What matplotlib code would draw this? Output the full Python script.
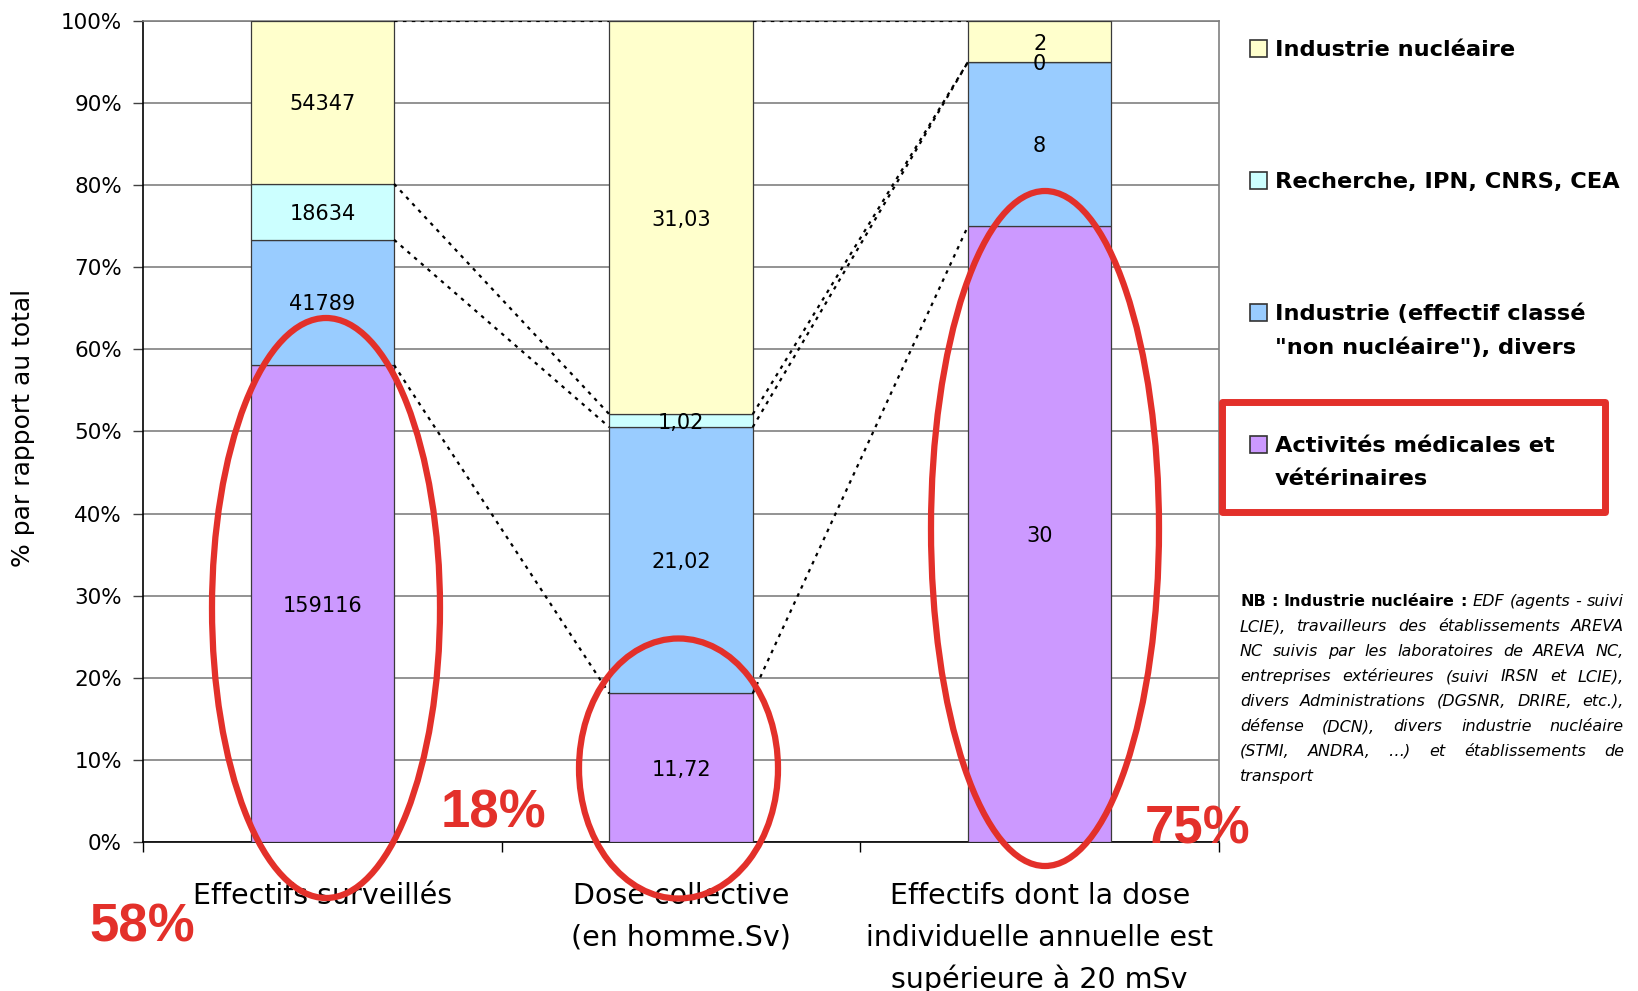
import matplotlib
matplotlib.use("Agg")
import matplotlib.pyplot as plt
from matplotlib.patches import Ellipse, Rectangle
from matplotlib.transforms import blended_transform_factory
import numpy as np

# ---- data -------------------------------------------------------------
categories = [
    ["Effectifs surveillés"],
    ["Dose collective", "(en homme.Sv)"],
    ["Effectifs dont la dose", "individuelle annuelle est", "supérieure à 20 mSv"],
]
series_names = [
    ["Activités médicales et", "vétérinaires"],
    ["Industrie (effectif classé", "\"non nucléaire\"), divers"],
    ["Recherche, IPN, CNRS, CEA"],
    ["Industrie nucléaire"],
]
medical = [159116, 11.72, 30]
industrie = [41789, 21.02, 8]
recherche = [18634, 1.02, 0]
nucleaire = [54347, 31.03, 2]
decimals = [0, 2, 0]
highlights = ["58%", "18%", "75%"]
yticks = list(range(0, 101, 10))
ytick_labels = [f"{v}%" for v in yticks]
ylabel = "% par rapport au total"
nb_lines = [
    [("NB : Industrie nucléaire :", "bold"), ("EDF (agents - suivi", "italic")],
    [("LCIE), travailleurs des établissements AREVA", "italic")],
    [("NC suivis par les laboratoires de AREVA NC,", "italic")],
    [("entreprises extérieures (suivi IRSN et LCIE),", "italic")],
    [("divers Administrations (DGSNR, DRIRE, etc.),", "italic")],
    [("défense (DCN), divers industrie nucléaire", "italic")],
    [("(STMI, ANDRA, …) et établissements de", "italic")],
    [("transport", "italic")],
]

colors = ["#CC99FF", "#99CCFF", "#CCFFFF", "#FFFFCC"]
RED = "#E3302A"

# ---- figure -----------------------------------------------------------
W, H = 1638, 991
plt.rcParams["font.family"] = ["DejaVu Sans"]
fig = plt.figure(figsize=(W / 100, H / 100), dpi=100)
fig.patch.set_facecolor("white")


def fy(ypx):
    return 1 - ypx / H


def fx(xpx):
    return xpx / W


ax = fig.add_axes([fx(143), fy(842), 1076 / W, 821 / H])

values = np.array([medical, industrie, recherche, nucleaire], dtype=float)
shares = values / values.sum(axis=0) * 100
x = np.arange(len(categories))
bw = 0.4


def fmt(v, j):
    return f"{v:.{decimals[j]}f}".replace(".", ",")


bottom = np.zeros(len(x))
tops = []
for i in range(len(values)):
    ax.bar(x, shares[i], bw, bottom=bottom, color=colors[i],
           edgecolor="#3a3a3a", linewidth=0.9, zorder=3)
    for j in range(len(x)):
        ax.text(x[j], bottom[j] + shares[i][j] / 2, fmt(values[i][j], j),
                ha="center", va="center_baseline", fontsize=15, zorder=5)
    bottom = bottom + shares[i]
    tops.append(bottom.copy())

# series lines joining the stacked segments of neighbouring bars
for j in range(len(x) - 1):
    for t in tops:
        ax.plot([x[j] + bw / 2, x[j + 1] - bw / 2], [t[j], t[j + 1]],
                color="black", lw=1.6, ls=(0, (1.6, 2.4)), zorder=4)

ax.set_xlim(-0.5, len(x) - 0.5)
ax.set_ylim(0, 100)
ax.set_yticks(yticks)
ax.set_yticklabels(ytick_labels, fontsize=15.5)
ax.tick_params(axis="y", direction="out", length=7.2, width=1, color="#404040", pad=8)
ax.yaxis.grid(True, color="#808080", lw=1.2)
ax.set_axisbelow(True)

ax.set_xticks(x)
ax.set_xticklabels([])
ax.set_xticks(np.arange(len(x) + 1) - 0.5, minor=True)
ax.tick_params(axis="x", which="major", length=0)
ax.tick_params(axis="x", which="minor", direction="out", length=7.2, width=1, color="black")

for side in ("left", "bottom"):
    ax.spines[side].set_color("black")
    ax.spines[side].set_linewidth(1.2)
for side in ("top", "right"):
    ax.spines[side].set_color("#808080")
    ax.spines[side].set_linewidth(1.2)

# category labels, one text per line
xtrans = blended_transform_factory(ax.transData, fig.transFigure)
for j, lines in enumerate(categories):
    for k, line in enumerate(lines):
        ax.text(x[j], fy(893 + 41.5 * k), line, transform=xtrans,
                ha="center", va="center_baseline", fontsize=20.5, clip_on=False)

ax.set_ylabel(ylabel, fontsize=18, va="center")
ax.yaxis.set_label_coords((23 - 143) / 1076, (842 - 428) / 821)

# ---- legend -------------------------------------------------------------
legend_rows = [(3, [48]), (2, [180]), (1, [312, 346]), (0, [444, 477])]
for idx, ys in legend_rows:
    fig.patches.append(Rectangle((fx(1250), fy(ys[0] + 9)), 17 / W, 17 / H,
                                 transform=fig.transFigure, facecolor=colors[idx],
                                 edgecolor="#333333", lw=1.2))
    for line, yy in zip(series_names[idx], ys):
        fig.text(fx(1275), fy(yy), line, fontsize=16.2, fontweight="bold",
                 ha="left", va="center_baseline")

# red frame around the medical entry
fig.patches.append(Rectangle((fx(1221.5), fy(511.5)), 383 / W, 110 / H,
                             transform=fig.transFigure, fill=False,
                             edgecolor=RED, lw=5, joinstyle="round", zorder=10))

# ---- highlights -------------------------------------------------------
ellipses = [(326, 608, 228, 580), (678.5, 768.5, 199, 260), (1045, 528.5, 228, 675)]
for cx, cy, ew, eh in ellipses:
    fig.patches.append(Ellipse((fx(cx), fy(cy)), ew / W, eh / H,
                               transform=fig.transFigure, fill=False,
                               edgecolor=RED, lw=4.5, zorder=10))

hl_pos = [(89, 941), (441, 828), (1145, 844)]
for txt, (px, py) in zip(highlights, hl_pos):
    fig.text(fx(px), fy(py), txt, color=RED, fontsize=38, fontweight="bold",
             family=["Liberation Sans", "DejaVu Sans"], ha="left", va="baseline", zorder=11)

# ---- justified note ---------------------------------------------------
renderer = fig.canvas.get_renderer()
nb_fs = 11.5
x0, x1 = 1240, 1624
space_t = fig.text(0, 0, "a a", fontsize=nb_fs, style="italic")
nospace_t = fig.text(0, 0, "aa", fontsize=nb_fs, style="italic")
space_w = space_t.get_window_extent(renderer).width - nospace_t.get_window_extent(renderer).width
space_t.remove()
nospace_t.remove()

for k, line in enumerate(nb_lines):
    words = [(w, st) for seg, st in line for w in seg.split(" ")]
    texts = []
    for w, st in words:
        t = fig.text(0, fy(600 + 25 * k), w, fontsize=nb_fs,
                     fontweight="bold" if st == "bold" else "normal",
                     style="italic" if st == "italic" else "normal",
                     ha="left", va="center_baseline")
        texts.append(t)
    widths = [t.get_window_extent(renderer).width for t in texts]
    if k < len(nb_lines) - 1 and len(words) > 1:
        gap = max((x1 - x0 - sum(widths)) / (len(words) - 1), 0.6 * space_w)
    else:
        gap = space_w
    xp = x0
    for t, w in zip(texts, widths):
        t.set_x(fx(xp))
        xp += w + gap

fig.savefig("out.png", dpi=100, facecolor="white")
